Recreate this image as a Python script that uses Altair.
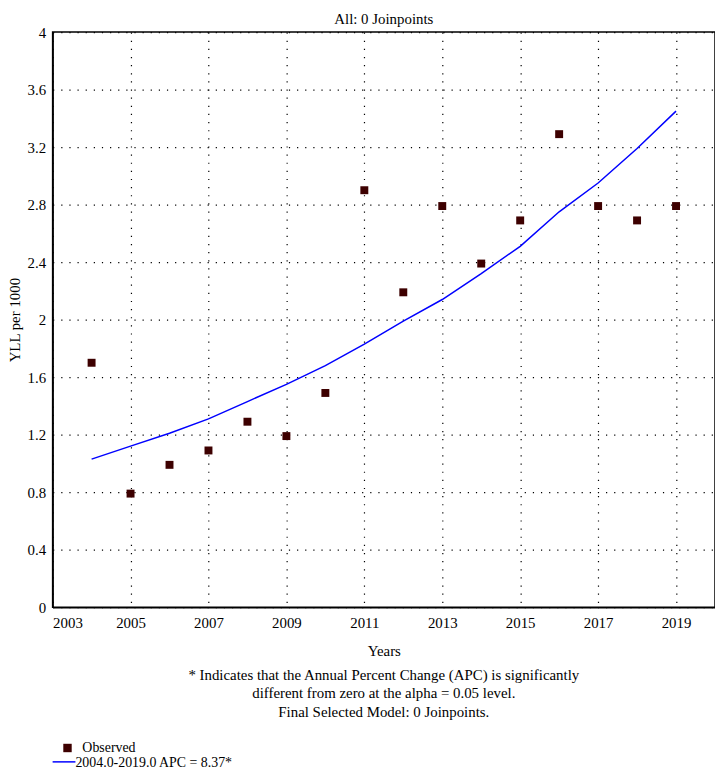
import altair as alt
import pandas as pd

# ---- data ----
years = list(range(2004, 2020))
observed = [1.70, 0.79, 0.99, 1.09, 1.29, 1.19, 1.49, 2.90, 2.19, 2.79,
            2.39, 2.69, 3.29, 2.79, 2.69, 2.79]
fitted = [1.03, 1.12, 1.21, 1.31, 1.43, 1.55, 1.68, 1.83, 1.99, 2.14,
          2.32, 2.51, 2.75, 2.95, 3.19, 3.45]
x_ticks = [2003, 2005, 2007, 2009, 2011, 2013, 2015, 2017, 2019]
y_ticks = [0, 0.4, 0.8, 1.2, 1.6, 2, 2.4, 2.8, 3.2, 3.6, 4]
title_text = "All: 0 Joinpoints"
x_title = "Years"
y_title = "YLL per 1000"
footnote_lines = [
    "* Indicates that the Annual Percent Change (APC) is significantly",
    "different from zero at the alpha = 0.05 level.",
    "Final Selected Model: 0 Joinpoints.",
]
legend_labels = ["Observed", "2004.0-2019.0 APC = 8.37*"]

FONT = "Liberation Serif"
W, H = 668, 580
MAROON = "#3d0000"
BLUE = "#0000ff"

df = pd.DataFrame({"year": years, "observed": observed, "fitted": fitted})
dummy = pd.DataFrame({"a": [0]})

x_enc = alt.X("year:Q",
              scale=alt.Scale(domain=[2003, 2020], nice=False, zero=False),
              axis=alt.Axis(values=x_ticks, format="d", title=x_title,
                            labelPadding=8, titleY=44, titleBaseline="middle"))

line = alt.Chart(df).mark_line(color=BLUE, strokeWidth=1.5).encode(
    x=x_enc,
    y=alt.Y("fitted:Q", scale=alt.Scale(domain=[0, 4], nice=False),
            axis=alt.Axis(values=y_ticks, format="~g", title=y_title,
                          labelPadding=7, titleX=-33, titleY=290,
                          titleBaseline="alphabetic", titleAlign="center",
                          titleAngle=270)),
)

points = alt.Chart(df).mark_square(size=64, color=MAROON, opacity=1).encode(
    x="year:Q",
    y="observed:Q",
)

ttl = alt.Chart(dummy).mark_text(
    text=title_text, font=FONT, fontSize=15, align="center",
    baseline="alphabetic", color="black"
).encode(x=alt.value(W / 2), y=alt.value(-8))

foot = alt.Chart(dummy).mark_text(
    text=footnote_lines, font=FONT, fontSize=15, lineHeight=19,
    align="center", baseline="top", color="black"
).encode(x=alt.value(W / 2), y=alt.value(641))

leg_sq = alt.Chart(dummy).mark_square(size=72, color=MAROON, opacity=1).encode(
    x=alt.value(15), y=alt.value(722))
leg_rule = alt.Chart(dummy).mark_rule(color=BLUE, strokeWidth=1.5).encode(
    x=alt.value(0), x2=alt.value(23), y=alt.value(736))
leg_t1 = alt.Chart(dummy).mark_text(
    text=legend_labels[0], font=FONT, fontSize=14, align="left",
    baseline="middle", color="black").encode(x=alt.value(30), y=alt.value(722))
leg_t2 = alt.Chart(dummy).mark_text(
    text=legend_labels[1], font=FONT, fontSize=14, align="left",
    baseline="middle", color="black").encode(x=alt.value(23), y=alt.value(737))

chart = alt.layer(line, points, ttl, foot, leg_sq, leg_rule, leg_t1, leg_t2).properties(
    width=W, height=H,
    padding={"left": 45, "top": 21, "right": 0, "bottom": 170},
    autosize=alt.AutoSizeParams(type="none"),
).configure_view(
    stroke="black", strokeWidth=1.5
).configure_axis(
    labelFont=FONT, labelFontSize=15, labelColor="black",
    titleFont=FONT, titleFontSize=15, titleFontWeight="normal", titleColor="black",
    grid=True, gridColor="black", gridDash=[1.2, 7], gridWidth=1.2, gridOpacity=1,
    ticks=False, tickSize=0, domainColor="black", domainWidth=1.5,
)

chart.save("out.html", embed_options={"renderer": "svg", "actions": False})
